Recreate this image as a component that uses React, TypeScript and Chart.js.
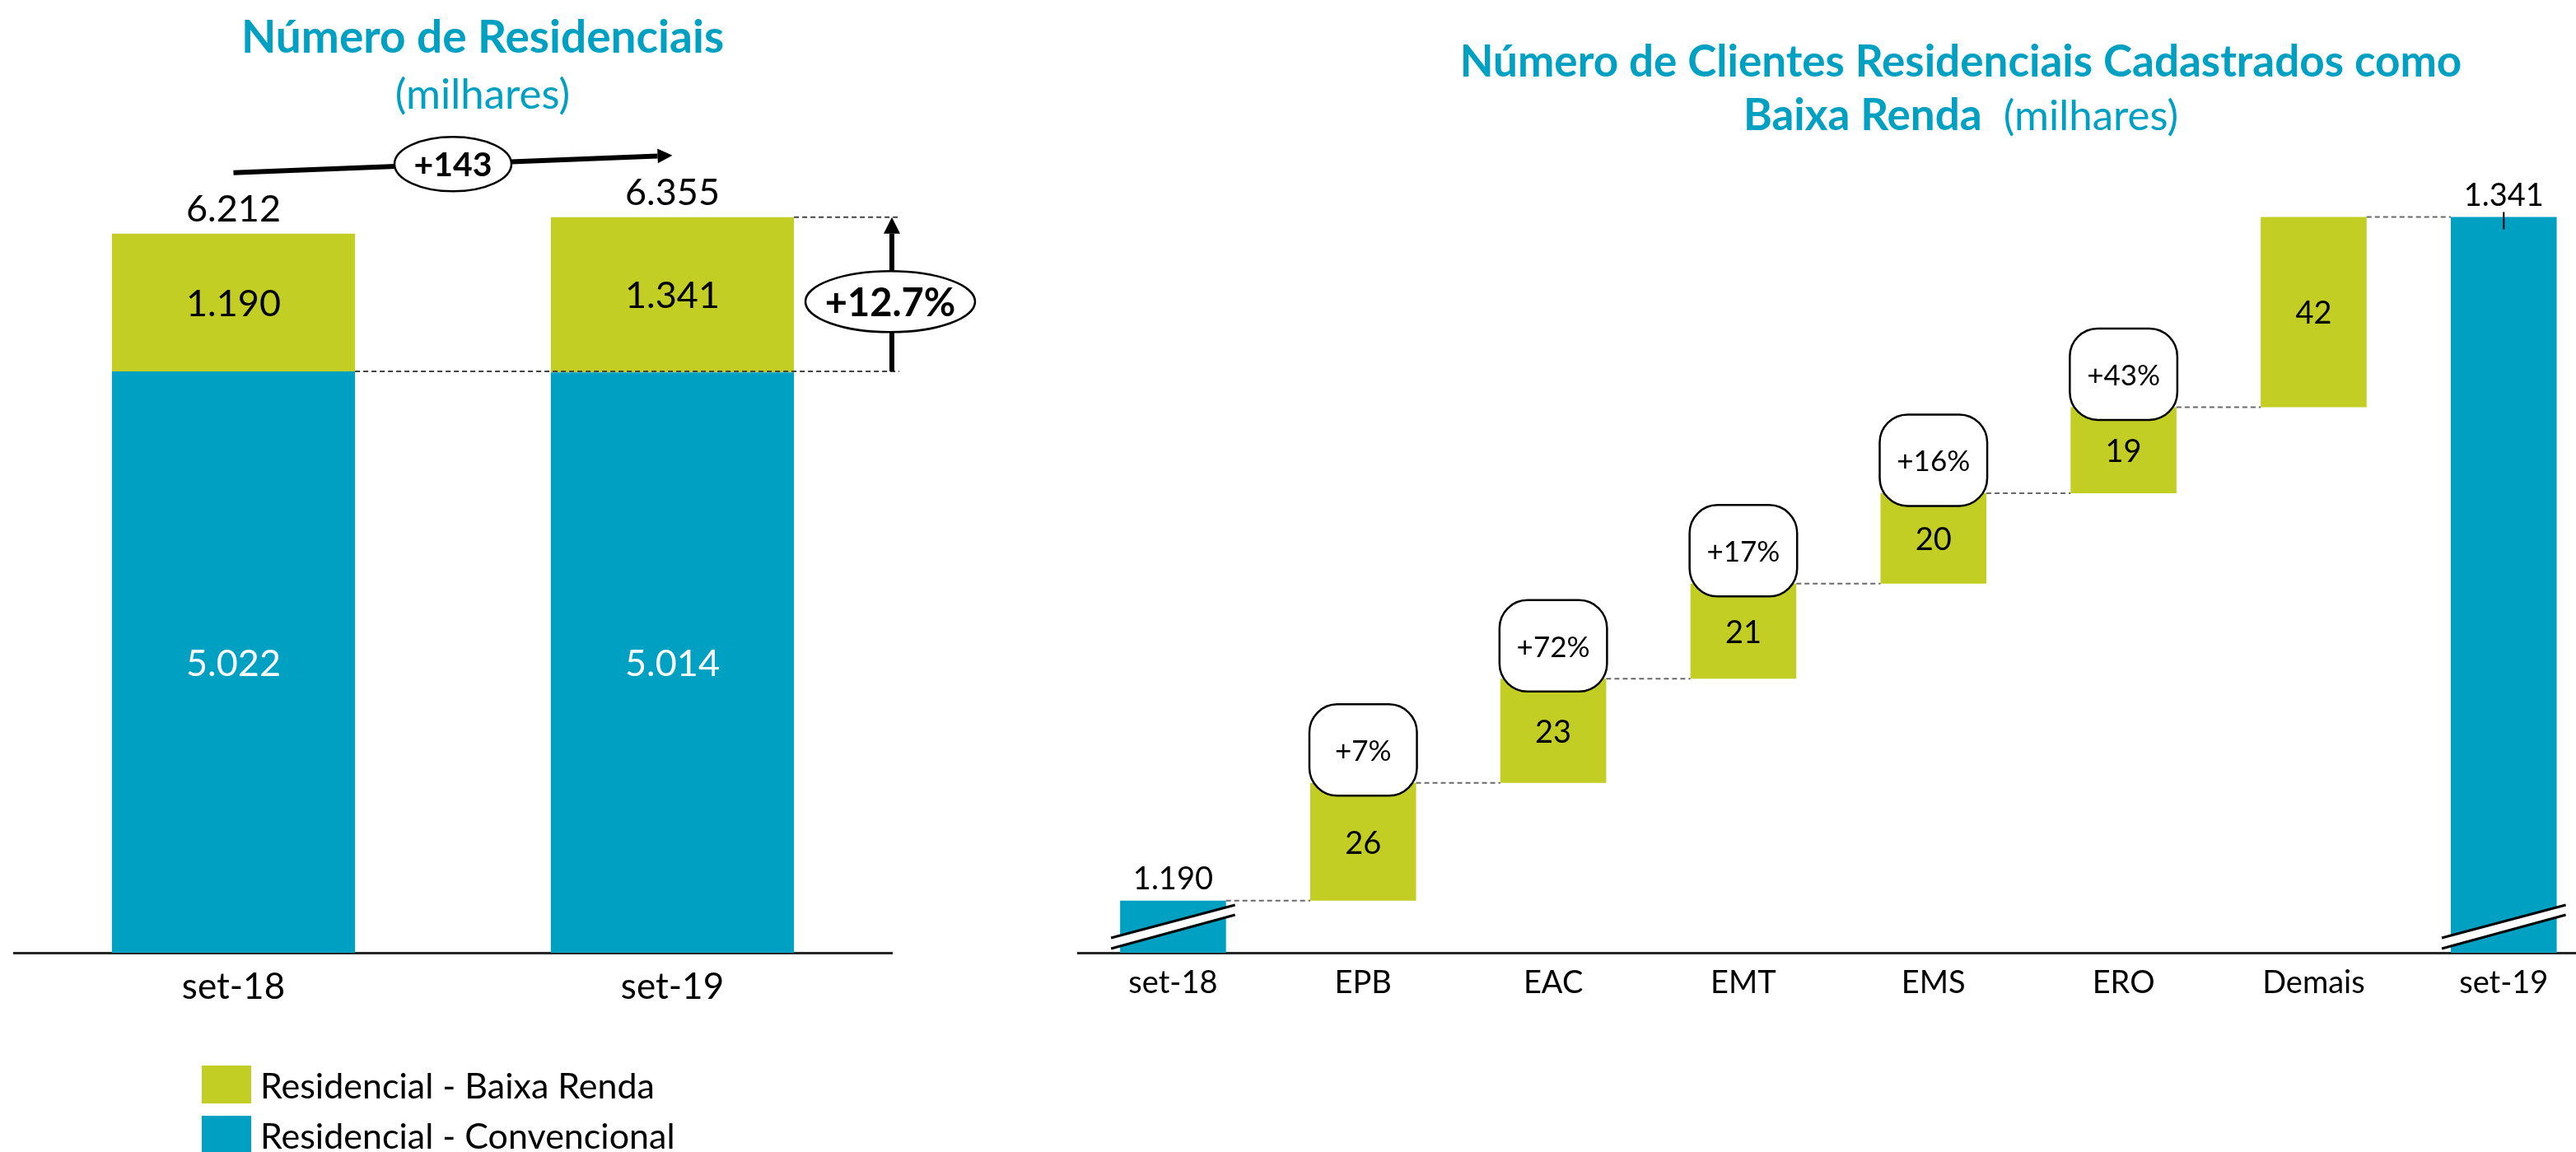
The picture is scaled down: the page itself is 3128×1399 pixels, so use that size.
import React, { useEffect, useRef } from 'react';
import { Chart, registerables } from 'chart.js';

Chart.register(...registerables);

// ---------- colours / fonts ----------
const GREEN = '#C2CE23';
const BLUE = '#00A0C3';
const TITLE_BLUE = '#00A0C3';
const FONT = 'Lato';

// ---------- left chart data ----------
const LEFT_CATEGORIES = ['set-18', 'set-19'];
const CONVENCIONAL = [5022, 5014];
const BAIXA_RENDA = [1190, 1341];
const LEFT_SERIES = ['Residencial - Convencional', 'Residencial - Baixa Renda'];
const LEFT_TITLE = 'Número de Residenciais';
const LEFT_SUBTITLE = '(milhares)';

// ---------- right chart (waterfall) data ----------
const WF_CATEGORIES = ['set-18', 'EPB', 'EAC', 'EMT', 'EMS', 'ERO', 'Demais', 'set-19'];
const WF_START = 1190;
const WF_DELTAS = [26, 23, 21, 20, 19, 42];
const WF_END = 1341;
const WF_GROWTH = ['+7%', '+72%', '+17%', '+16%', '+43%', ''];
const RIGHT_TITLE_1 = 'Número de Clientes Residenciais Cadastrados como';
const RIGHT_TITLE_2_BOLD = 'Baixa Renda';
const RIGHT_TITLE_2_REG = '  (milhares)';

const fmt = (v: number) => String(Math.round(v)).replace(/\B(?=(\d{3})+(?!\d))/g, '.');

function drawArrow(ctx: CanvasRenderingContext2D, x0: number, y0: number, x1: number, y1: number, lw: number, headLen: number, headHalf: number) {
  const ang = Math.atan2(y1 - y0, x1 - x0);
  const bx = x1 - headLen * Math.cos(ang);
  const by = y1 - headLen * Math.sin(ang);
  ctx.lineWidth = lw;
  ctx.beginPath();
  ctx.moveTo(x0, y0);
  ctx.lineTo(bx, by);
  ctx.stroke();
  ctx.beginPath();
  ctx.moveTo(x1, y1);
  ctx.lineTo(bx + headHalf * Math.sin(ang), by - headHalf * Math.cos(ang));
  ctx.lineTo(bx - headHalf * Math.sin(ang), by + headHalf * Math.cos(ang));
  ctx.closePath();
  ctx.fill();
}

function ellipseLabel(ctx: CanvasRenderingContext2D, cx: number, cy: number, rx: number, ry: number, text: string, font: string) {
  ctx.beginPath();
  ctx.ellipse(cx, cy, rx, ry, 0, 0, Math.PI * 2);
  ctx.fillStyle = '#fff';
  ctx.fill();
  ctx.lineWidth = 2.5;
  ctx.strokeStyle = '#000';
  ctx.stroke();
  ctx.fillStyle = '#000';
  ctx.font = font;
  ctx.textAlign = 'center';
  ctx.textBaseline = 'middle';
  ctx.fillText(text, cx, cy + 2);
}

const leftPlugin = {
  id: 'leftAnnot',
  afterDatasetsDraw(chart: any) {
    const ctx: CanvasRenderingContext2D = chart.ctx;
    const conv = chart.getDatasetMeta(0).data;
    const baixa = chart.getDatasetMeta(1).data;
    const area = chart.chartArea;
    ctx.save();
    ctx.textAlign = 'center';
    ctx.textBaseline = 'middle';
    ctx.font = `45px ${FONT}`;
    for (let i = 0; i < conv.length; i++) {
      const c = conv[i];
      const b = baixa[i];
      ctx.fillStyle = '#fff';
      ctx.fillText(fmt(CONVENCIONAL[i]), c.x, (c.y + c.base) / 2 + 2);
      ctx.fillStyle = '#000';
      ctx.fillText(fmt(BAIXA_RENDA[i]), b.x, (b.y + b.base) / 2 + 2);
      ctx.fillText(fmt(CONVENCIONAL[i] + BAIXA_RENDA[i]), b.x, b.y - 29);
    }
    const b0 = baixa[0];
    const b1 = baixa[1];
    const xEnd = area.right + 9;
    // dashed reference lines
    ctx.setLineDash([6, 4]);
    ctx.lineWidth = 2;
    ctx.strokeStyle = '#444';
    ctx.beginPath();
    ctx.moveTo(b0.x + b0.width / 2, b0.base);
    ctx.lineTo(xEnd, b0.base);
    ctx.moveTo(b1.x + b1.width / 2, b1.y);
    ctx.lineTo(xEnd, b1.y);
    ctx.stroke();
    ctx.setLineDash([]);
    // vertical growth arrow
    ctx.strokeStyle = '#000';
    ctx.fillStyle = '#000';
    const ax = area.right;
    drawArrow(ctx, ax, b0.base, ax, b1.y, 6, 20, 10);
    const growth = '+' + ((BAIXA_RENDA[1] / BAIXA_RENDA[0] - 1) * 100).toFixed(1) + '%';
    ellipseLabel(ctx, ax - 2, (b0.base + b1.y) / 2 + 9, 103, 37, growth, `bold 47px ${FONT}`);
    // total change arrow
    ctx.strokeStyle = '#000';
    ctx.fillStyle = '#000';
    const p0 = { x: b0.x, y: b0.y - 74 };
    const p1 = { x: b1.x, y: b1.y - 75 };
    drawArrow(ctx, p0.x, p0.y, p1.x, p1.y, 6, 18, 9);
    const diff = CONVENCIONAL[1] + BAIXA_RENDA[1] - (CONVENCIONAL[0] + BAIXA_RENDA[0]);
    ellipseLabel(ctx, (p0.x + p1.x) / 2, (p0.y + p1.y) / 2, 71, 33, '+' + diff, `bold 41px ${FONT}`);
    ctx.restore();
  },
};

const wfPlugin = {
  id: 'wfAnnot',
  afterDatasetsDraw(chart: any) {
    const ctx: CanvasRenderingContext2D = chart.ctx;
    const els = chart.getDatasetMeta(0).data;
    const area = chart.chartArea;
    const n = els.length;
    ctx.save();
    // connectors
    ctx.setLineDash([6, 4]);
    ctx.lineWidth = 2;
    ctx.strokeStyle = '#6a6a6a';
    ctx.beginPath();
    for (let i = 0; i < n - 1; i++) {
      const a = els[i];
      const b = els[i + 1];
      ctx.moveTo(a.x + a.width / 2, a.y);
      ctx.lineTo(b.x - b.width / 2, a.y);
    }
    ctx.stroke();
    ctx.setLineDash([]);
    // axis breaks on the total bars
    [0, n - 1].forEach((i) => {
      const el = els[i];
      const L = el.x - el.width / 2 - 11;
      const R = el.x + el.width / 2 + 11;
      const yb = area.bottom;
      ctx.beginPath();
      ctx.moveTo(L, yb - 18);
      ctx.lineTo(R, yb - 58);
      ctx.lineTo(R, yb - 46);
      ctx.lineTo(L, yb - 5);
      ctx.closePath();
      ctx.fillStyle = '#fff';
      ctx.fill();
      ctx.lineWidth = 3;
      ctx.strokeStyle = '#000';
      ctx.beginPath();
      ctx.moveTo(L, yb - 18);
      ctx.lineTo(R, yb - 58);
      ctx.moveTo(L, yb - 5);
      ctx.lineTo(R, yb - 46);
      ctx.stroke();
    });
    // small tick on final bar
    const last = els[n - 1];
    ctx.lineWidth = 2;
    ctx.strokeStyle = '#000';
    ctx.beginPath();
    ctx.moveTo(last.x, last.y - 6);
    ctx.lineTo(last.x, last.y + 15);
    ctx.stroke();
    // value labels
    ctx.fillStyle = '#000';
    ctx.textAlign = 'center';
    ctx.textBaseline = 'middle';
    ctx.font = `38px ${FONT}`;
    ctx.fillText(fmt(WF_START), els[0].x, els[0].y - 26);
    ctx.fillText(fmt(WF_END), last.x, last.y - 26);
    for (let i = 0; i < WF_DELTAS.length; i++) {
      const el = els[i + 1];
      ctx.fillText(fmt(WF_DELTAS[i]), el.x, (el.y + el.base) / 2 + 2);
    }
    // growth boxes
    for (let i = 0; i < WF_DELTAS.length; i++) {
      const txt = WF_GROWTH[i];
      if (!txt) continue;
      const el = els[i + 1];
      const w = el.width + 2;
      const h = 111;
      const cx = el.x;
      const cy = el.y - 40;
      ctx.beginPath();
      (ctx as any).roundRect(cx - w / 2, cy - h / 2, w, h, 34);
      ctx.fillStyle = '#fff';
      ctx.fill();
      ctx.lineWidth = 2.5;
      ctx.strokeStyle = '#000';
      ctx.stroke();
      ctx.fillStyle = '#000';
      ctx.font = `35px ${FONT}`;
      ctx.fillText(txt, cx, cy + 2);
    }
    ctx.restore();
  },
};

export default function App() {
  const leftRef = useRef<HTMLCanvasElement>(null);
  const rightRef = useRef<HTMLCanvasElement>(null);

  useEffect(() => {
    const charts: Chart[] = [];
    const axisBorder = { display: true, color: '#262626', width: 3 };

    charts.push(
      new Chart(leftRef.current!, {
        type: 'bar',
        data: {
          labels: LEFT_CATEGORIES,
          datasets: [
            { label: LEFT_SERIES[0], data: CONVENCIONAL, backgroundColor: BLUE, categoryPercentage: 1, barPercentage: 0.554 },
            { label: LEFT_SERIES[1], data: BAIXA_RENDA, backgroundColor: GREEN, categoryPercentage: 1, barPercentage: 0.554 },
          ],
        },
        options: {
          responsive: false,
          animation: false,
          layout: { padding: { left: 17, right: 117, top: 173, bottom: 142 } },
          plugins: { legend: { display: false }, tooltip: { enabled: false } },
          scales: {
            x: {
              stacked: true,
              grid: { display: false, drawTicks: false },
              border: axisBorder,
              ticks: { font: { family: FONT, size: 44 }, color: '#000', padding: 15 },
              afterFit: (s: any) => { s.height = 100; },
            },
            y: { stacked: true, display: false, min: 0, max: 7000 },
          },
        },
        plugins: [leftPlugin],
      } as any)
    );

    const wfData: any[] = [{ x: 0, y: WF_START }];
    let run = WF_START;
    WF_DELTAS.forEach((d, i) => {
      wfData.push({ x: i + 1, y: [run, run + d] });
      run += d;
    });
    wfData.push({ x: WF_DELTAS.length + 1, y: WF_END });
    const wfColors = wfData.map((_, i) => (i === 0 || i === wfData.length - 1 ? BLUE : GREEN));

    charts.push(
      new Chart(rightRef.current!, {
        type: 'bar',
        data: {
          datasets: [
            { label: 'Baixa Renda', data: wfData, backgroundColor: wfColors, categoryPercentage: 1, barPercentage: 0.557 },
          ],
        },
        options: {
          responsive: false,
          animation: false,
          layout: { padding: { left: 109, right: 0, top: 159, bottom: 142 } },
          plugins: { legend: { display: false }, tooltip: { enabled: false } },
          scales: {
            x: {
              type: 'linear',
              min: -0.5,
              max: 7.38,
              offset: false,
              grid: { display: false, drawTicks: false },
              border: axisBorder,
              ticks: {
                stepSize: 1,
                includeBounds: false,
                autoSkip: false,
                maxRotation: 0,
                font: { family: FONT, size: 38 },
                color: '#000',
                padding: 14,
                callback: (v: any) => (Number.isInteger(v) ? WF_CATEGORIES[v] ?? '' : ''),
              },
              afterFit: (s: any) => { s.height = 100; },
            },
            y: { display: false, min: 1178.5, max: 1360 },
          },
        },
        plugins: [wfPlugin],
      } as any)
    );

    return () => charts.forEach((c) => c.destroy());
  }, []);

  const abs = (o: React.CSSProperties): React.CSSProperties => ({ position: 'absolute', whiteSpace: 'pre', ...o });

  return (
    <div style={{ position: 'fixed', left: 0, top: 0, width: 3128, height: 1399, background: '#fff', overflow: 'hidden', fontFamily: FONT }}>
      <canvas ref={leftRef} width={1200} height={1399} style={{ position: 'absolute', left: 0, top: 0 }} />
      <canvas ref={rightRef} width={1928} height={1399} style={{ position: 'absolute', left: 1200, top: 0 }} />

      <div style={abs({ left: 586, top: 16, transform: 'translateX(-50%)', fontSize: 55, lineHeight: '55px', fontWeight: 700, color: TITLE_BLUE })}>{LEFT_TITLE}</div>
      <div style={abs({ left: 586, top: 87, transform: 'translateX(-50%)', fontSize: 51, lineHeight: '51px', color: TITLE_BLUE })}>{LEFT_SUBTITLE}</div>

      <div style={abs({ left: 2381, top: 46, transform: 'translateX(-50%)', fontSize: 53, lineHeight: '53px', fontWeight: 700, color: TITLE_BLUE })}>{RIGHT_TITLE_1}</div>
      <div style={abs({ left: 2381, top: 111, transform: 'translateX(-50%)', fontSize: 53, lineHeight: '53px', color: TITLE_BLUE })}>
        <span style={{ fontWeight: 700 }}>{RIGHT_TITLE_2_BOLD}</span>
        <span style={{ fontSize: 51 }}>{RIGHT_TITLE_2_REG}</span>
      </div>

      {[
        { label: LEFT_SERIES[1], color: GREEN, top: 1294 },
        { label: LEFT_SERIES[0], color: BLUE, top: 1355 },
      ].map((it) => (
        <React.Fragment key={it.label}>
          <div style={abs({ left: 245, top: it.top, width: 60, height: 46, background: it.color })} />
          <div style={abs({ left: 316, top: it.top + 2, fontSize: 43, lineHeight: '43px', color: '#000' })}>{it.label}</div>
        </React.Fragment>
      ))}
    </div>
  );
}
